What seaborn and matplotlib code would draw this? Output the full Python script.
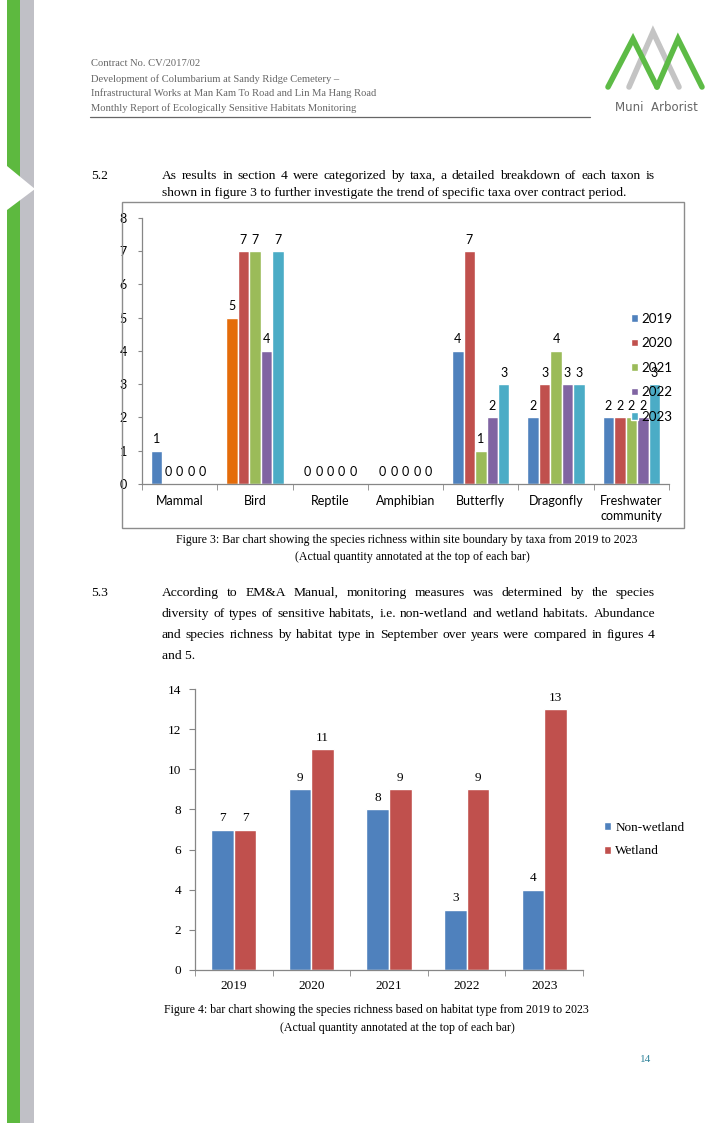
import pandas as pd
import seaborn as sns
import matplotlib.pyplot as plt
from matplotlib.patches import Rectangle, Polygon
from matplotlib.lines import Line2D

# Figure 3 data: species richness by taxa
taxa = ["Mammal", "Bird", "Reptile", "Amphibian", "Butterfly", "Dragonfly", "Freshwater\ncommunity"]
years = ["2019", "2020", "2021", "2022", "2023"]
richness_2019 = [1, 5, 0, 0, 4, 2, 2]
richness_2020 = [0, 7, 0, 0, 7, 3, 2]
richness_2021 = [0, 7, 0, 0, 1, 4, 2]
richness_2022 = [0, 4, 0, 0, 2, 3, 2]
richness_2023 = [0, 7, 0, 0, 3, 3, 3]

# Figure 4 data: species richness by habitat type
habitat_years = ["2019", "2020", "2021", "2022", "2023"]
habitats = ["Non-wetland", "Wetland"]
non_wetland = [7, 9, 8, 3, 4]
wetland = [7, 11, 9, 9, 13]

year_colors = ["#4F81BD", "#C0504D", "#9BBB59", "#8064A2", "#4BACC6"]
habitat_colors = ["#4F81BD", "#C0504D"]

sns.set_style("white")
plt.rcParams['font.family'] = ['Liberation Serif', 'DejaVu Sans']
plt.rcParams['text.color'] = 'black'
plt.rcParams['xtick.labelcolor'] = 'black'
plt.rcParams['ytick.labelcolor'] = 'black'

W, H = 712, 1123
fig = plt.figure(figsize=(W / 100, H / 100), dpi=100)


def fx(x):
    return x / W


def fy(y):
    return 1 - y / H


# page decoration: side stripes and chevron
fig.add_artist(Rectangle((fx(7), 0), 13 / W, 1, transform=fig.transFigure, color="#5DB93F", lw=0))
fig.add_artist(Rectangle((fx(20), 0), 14 / W, 1, transform=fig.transFigure, color="#C0C0C6", lw=0))
fig.add_artist(Polygon([(fx(0), fy(166)), (fx(7), fy(166)), (fx(35), fy(189)), (fx(7), fy(210)), (fx(0), fy(210))],
                       closed=True, transform=fig.transFigure, color="white", lw=0))

# logo
for pts, col in [([(629, 87), (653, 32), (679, 87)], "#C4C4C4"),
                 ([(608, 87), (633, 39), (657, 87)], "#5DBB46"),
                 ([(657, 87), (678, 39), (702, 87)], "#5DBB46")]:
    fig.add_artist(Line2D([fx(p[0]) for p in pts], [fy(p[1]) for p in pts], transform=fig.transFigure,
                          color=col, lw=4, solid_joinstyle="miter"))
fig.text(fx(656), fy(108), "Muni  Arborist", ha="center", va="center", fontsize=8.5,
         family="DejaVu Sans", color="#666666")

# header
header = ["Contract No. CV/2017/02",
          "Development of Columbarium at Sandy Ridge Cemetery \u2013",
          "Infrastructural Works at Man Kam To Road and Lin Ma Hang Road",
          "Monthly Report of Ecologically Sensitive Habitats Monitoring"]
for i, line in enumerate(header):
    fig.text(fx(91), fy([64, 79, 93, 108][i]), line, ha="left", va="center", fontsize=7.6, color="#666666")
fig.add_artist(Line2D([fx(90), fx(590)], [fy(116.5), fy(116.5)], transform=fig.transFigure, color="#666666", lw=0.9))

renderer = fig.canvas.get_renderer()


def justified(line, x0, x1, y, size):
    words = line.split()
    texts = [fig.text(0, fy(y), w, ha="left", va="center", fontsize=size) for w in words]
    widths = [t.get_window_extent(renderer).width for t in texts]
    gap = (x1 - x0 - sum(widths)) / (len(words) - 1)
    x = x0
    for t, w in zip(texts, widths):
        t.set_x(fx(x))
        x += w + gap


body_size = 9.7
text_right = 655
fig.text(fx(91), fy(176), "5.2", ha="left", va="center", fontsize=body_size)
justified("As results in section 4 were categorized by taxa, a detailed breakdown of each taxon is",
          162, text_right, 176, body_size)
fig.text(fx(162), fy(193), "shown in figure 3 to further investigate the trend of specific taxa over contract period.",
         ha="left", va="center", fontsize=body_size)

# chart 1 frame
fig.add_artist(Rectangle((fx(122), fy(528)), 562 / W, 326 / H, transform=fig.transFigure,
                         fill=False, edgecolor="#8C8C8C", lw=1))

df1 = pd.DataFrame({"taxon": taxa * 5,
                    "year": [y for y in years for _ in taxa],
                    "count": richness_2019 + richness_2020 + richness_2021 + richness_2022 + richness_2023})

c1_font = 9
ax1 = fig.add_axes([fx(142), fy(484), 527 / W, 266 / H])
sns.barplot(data=df1, x="taxon", y="count", hue="year", palette=year_colors, width=0.76,
            saturation=1, ax=ax1)
# the 2019 bird bar is drawn in orange in the report
ax1.containers[0].patches[1].set_facecolor("#E46C0A")
for c in ax1.containers:
    ax1.bar_label(c, padding=4, fontsize=c1_font, family="Lato")
ax1.set_ylim(0, 8)
ax1.set_xlim(-0.5, 6.5)
ax1.set_xlabel("")
ax1.set_ylabel("")
ax1.set_xticks(range(7))
ax1.set_xticklabels(taxa, fontsize=c1_font, family="Lato", linespacing=1.3)
ax1.set_xticks([i - 0.5 for i in range(8)], minor=True)
ax1.tick_params(axis="x", which="major", length=0, pad=8)
ax1.tick_params(axis="x", which="minor", length=4, color="#868686", direction="out", bottom=True)
ax1.set_yticks(range(9))
ax1.tick_params(axis="y", length=3, color="#868686", direction="out", left=True, pad=8, labelsize=c1_font)
for lab in ax1.get_yticklabels():
    lab.set_family("Lato")
for s in ["top", "right"]:
    ax1.spines[s].set_visible(False)
for s in ["left", "bottom"]:
    ax1.spines[s].set_color("#868686")
    ax1.spines[s].set_linewidth(0.9)
sns.move_legend(ax1, loc="upper left", bbox_to_anchor=((631 - 142) / 527, (484 - 313) / 266),
                frameon=False, title=None, borderpad=0, borderaxespad=0, handlelength=0.5,
                handleheight=0.5, handletextpad=0.25, labelspacing=0.93, prop={"family": "Lato", "size": 9.6})

fig.text(fx(407), fy(540), "Figure 3: Bar chart showing the species richness within site boundary by taxa from 2019 to 2023",
         ha="center", va="center", fontsize=8.6)
fig.text(fx(412), fy(557), "(Actual quantity annotated at the top of each bar)", ha="center", va="center", fontsize=8.6)

fig.text(fx(91), fy(593), "5.3", ha="left", va="center", fontsize=body_size)
para = ["According to EM&A Manual, monitoring measures was determined by the species",
        "diversity of types of sensitive habitats, i.e. non-wetland and wetland habitats. Abundance",
        "and species richness by habitat type in September over years were compared in figures 4"]
for i, line in enumerate(para):
    justified(line, 162, text_right, [593, 614, 635][i], body_size)
fig.text(fx(162), fy(656), "and 5.", ha="left", va="center", fontsize=body_size)

# chart 2
df2 = pd.DataFrame({"year": habitat_years * 2,
                    "habitat": [h for h in habitats for _ in habitat_years],
                    "count": non_wetland + wetland})
ax2 = fig.add_axes([fx(195), fy(970), 388 / W, 281 / H])
sns.barplot(data=df2, x="year", y="count", hue="habitat", palette=habitat_colors, width=0.58,
            saturation=1, ax=ax2)
for c in ax2.containers:
    ax2.bar_label(c, padding=4, fontsize=9.5)
ax2.set_ylim(0, 14)
ax2.set_xlim(-0.5, 4.5)
ax2.set_xlabel("")
ax2.set_ylabel("")
ax2.set_yticks(range(0, 15, 2))
ax2.set_xticks([i - 0.5 for i in range(6)], minor=True)
ax2.tick_params(axis="x", which="major", length=0, pad=7, labelsize=9.5)
ax2.tick_params(axis="x", which="minor", length=4, color="#868686", direction="out", bottom=True)
ax2.tick_params(axis="y", length=4, color="#868686", direction="out", left=True, pad=6, labelsize=9.5)
for s in ["top", "right"]:
    ax2.spines[s].set_visible(False)
for s in ["left", "bottom"]:
    ax2.spines[s].set_color("#868686")
    ax2.spines[s].set_linewidth(0.9)
sns.move_legend(ax2, loc="upper left", bbox_to_anchor=((604 - 195) / 388, (970 - 822) / 281),
                frameon=False, title=None, borderpad=0, borderaxespad=0, handlelength=0.55,
                handleheight=0.55, handletextpad=0.3, labelspacing=0.85, prop={"size": 9.5})

fig.text(fx(376), fy(1010), "Figure 4: bar chart showing the species richness based on habitat type from 2019 to 2023",
         ha="center", va="center", fontsize=8.6)
fig.text(fx(397), fy(1028), "(Actual quantity annotated at the top of each bar)", ha="center", va="center", fontsize=8.6)

fig.text(fx(646), fy(1059), "14", ha="center", va="center", fontsize=8, color="#31849B")

fig.savefig("out.png", dpi=100)
